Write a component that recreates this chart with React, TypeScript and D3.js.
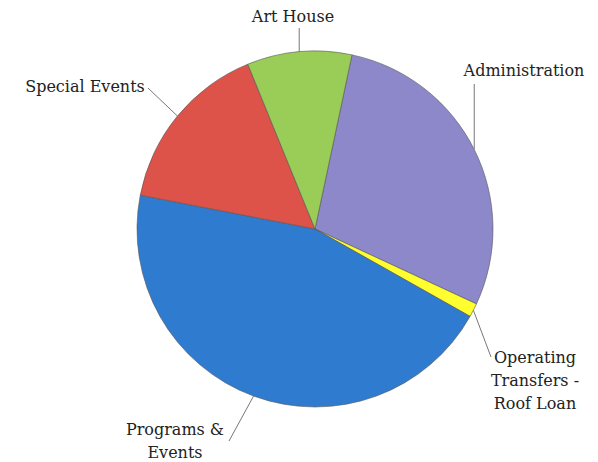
import { useEffect, useRef } from 'react';
import * as d3 from 'd3';

// budget shares (%), clockwise starting from Administration
const categories = ['Administration', 'Operating Transfers - Roof Loan', 'Programs & Events', 'Special Events', 'Art House'];
const shares = [28.6, 1.25, 44.9, 15.8, 9.5];
const colors = ['#8C88C9', '#FFFF30', '#2F7BCF', '#DD5249', '#9ACC58'];

// label text lines per category
const labelLines = [
  ['Administration'],
  ['Operating', 'Transfers -', 'Roof Loan'],
  ['Programs &', 'Events'],
  ['Special Events'],
  ['Art House'],
];

const WIDTH = 598;
const HEIGHT = 462;

export default function App() {
  const svgRef = useRef<SVGSVGElement>(null);

  useEffect(() => {
    if (!svgRef.current) return;
    const svg = d3.select(svgRef.current);
    svg.selectAll('*').remove();

    const cx = 315;
    const cy = 229;
    const radius = 178;
    const start = (12 * Math.PI) / 180;

    const pie = d3
      .pie<number>()
      .sort(null)
      .startAngle(start)
      .endAngle(start + 2 * Math.PI);
    const arcs = pie(shares);

    const arc = d3.arc<d3.PieArcDatum<number>>().innerRadius(0).outerRadius(radius);

    const g = svg.append('g').attr('transform', `translate(${cx},${cy})`);

    g.selectAll('path.slice')
      .data(arcs)
      .join('path')
      .attr('class', 'slice')
      .attr('d', arc)
      .attr('fill', (_, i) => colors[i])
      .attr('stroke', '#555')
      .attr('stroke-width', 0.6);

    // label placement (text anchor point + leader end), in page coords
    const layout = [
      { x: 524, y: 76, end: [0, 84], vertical: true },
      { x: 535, y: 363, end: [491, 357] },
      { x: 175, y: 435, end: [229, 441] },
      { x: 85, y: 92, end: [148, 88] },
      { x: 293, y: 22, end: [0, 28], vertical: true },
    ];

    const lead = svg.append('g');
    arcs.forEach((a, i) => {
      const mid = (a.startAngle + a.endAngle) / 2;
      const px = cx + radius * Math.sin(mid);
      const py = cy - radius * Math.cos(mid);
      const L = layout[i];
      const ex = L.vertical ? px : L.end[0];
      const ey = L.end[1];
      lead
        .append('line')
        .attr('x1', px)
        .attr('y1', py)
        .attr('x2', ex)
        .attr('y2', ey)
        .attr('stroke', '#777')
        .attr('stroke-width', 1);

      const t = svg
        .append('text')
        .attr('x', L.x)
        .attr('y', L.y)
        .attr('text-anchor', 'middle')
        .attr('fill', '#222')
        .style('font-family', "'DejaVu Serif', 'Liberation Serif', serif")
        .style('font-size', '16px');
      labelLines[i].forEach((line, j) => {
        t.append('tspan')
          .attr('x', L.x)
          .attr('dy', j === 0 ? 0 : 23)
          .text(line);
      });
    });
  }, []);

  return (
    <svg
      ref={svgRef}
      width={WIDTH}
      height={HEIGHT}
      style={{ position: 'absolute', left: 0, top: 0, background: '#fff' }}
      aria-label={categories.join(', ')}
    />
  );
}
